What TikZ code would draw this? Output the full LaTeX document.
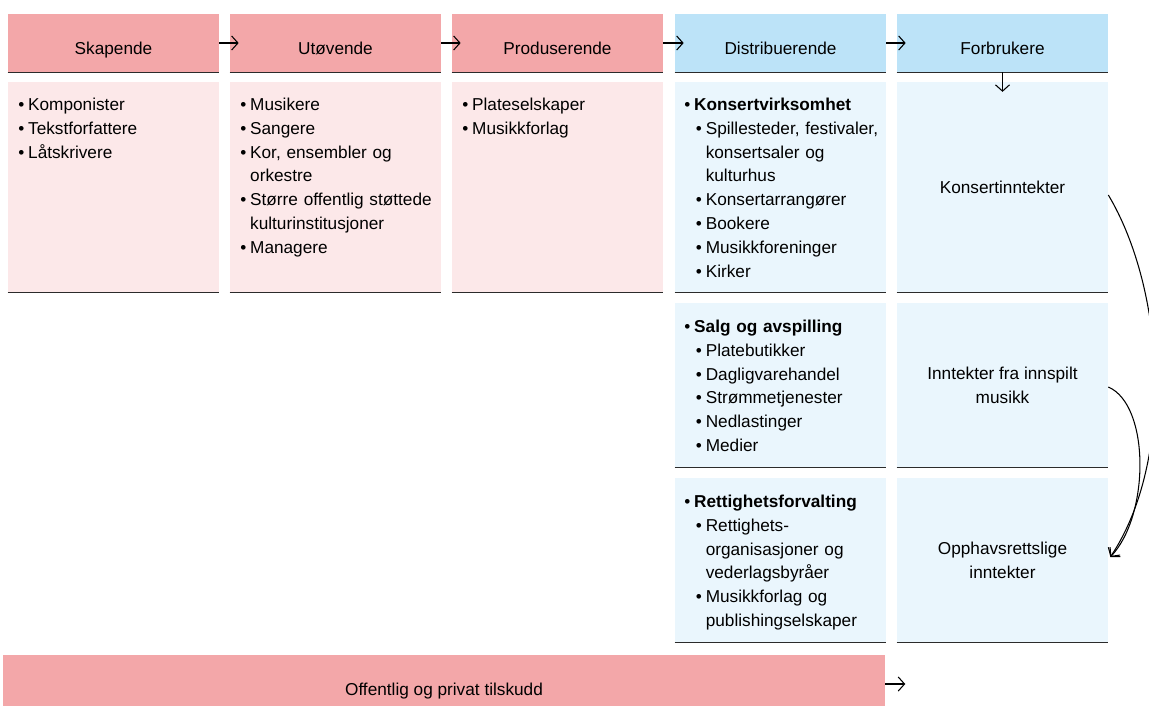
\documentclass[tikz,border=0pt]{standalone}
\usepackage{fontspec}
\setmainfont{Liberation Sans}
\usetikzlibrary{arrows.meta}

\definecolor{rosa}{HTML}{F3A7A9}
\definecolor{lysrosa}{HTML}{FCE8E9}
\definecolor{bla}{HTML}{BCE3F8}
\definecolor{lysbla}{HTML}{EAF6FD}
\definecolor{strek}{HTML}{2B2B2B}

\newcommand\tekstfont{\fontsize{9.8}{13.6}\selectfont}
\newlength\bw \setlength\bw{5.6pt}
% punkt, fortsettelse, underpunkt
\newcommand\pkt[1]{\par\noindent\makebox[\bw][l]{\textbullet}#1}
\newcommand\fort[1]{\par\noindent\hspace*{\bw}#1}
\newcommand\upkt[1]{\par\noindent\hspace*{6.6pt}\makebox[\bw][l]{\textbullet}#1}
\newcommand\ufort[1]{\par\noindent\hspace*{6.6pt}\hspace*{\bw}#1}
\newcommand\senk[2]{\raisebox{-#1}[0pt][0pt]{#2}}

\begin{document}
\begin{tikzpicture}[x=0.02cm,y=-0.02cm,
  hode/.style={minimum width=4.22cm,minimum height=1.16cm,inner sep=0pt,font=\tekstfont},
  kropp/.style={minimum width=4.22cm,inner sep=0pt,font=\tekstfont,align=center},
  liste/.style={anchor=north west,inner sep=0pt,text width=4cm,font=\tekstfont},
  linje/.style={strek,line width=0.85pt},
  pil/.style={-{Straight Barb[length=3.6pt,width=8pt]},line width=0.6pt,black}]
  \useasboundingbox (0,0) rectangle (1149,706);
  % overskrifter
  \foreach \n/\x/\f/\t in {1/113.5/rosa/Skapende,2/335.5/rosa/Utøvende,
      3/557.5/rosa/Produserende,4/780.5/bla/Distribuerende,5/1002.5/bla/Forbrukere}{
    \node[hode,fill=\f] (h\n) at (\x,43) {\senk{6.3pt}{\t}};
    \draw[linje] (h\n.south west) -- (h\n.south east);
  }
  % rad 1
  \foreach \n/\x/\f in {1/113.5/lysrosa,2/335.5/lysrosa,3/557.5/lysrosa,4/780.5/lysbla}{
    \node[kropp,minimum height=4.2cm,fill=\f] (b\n) at (\x,187) {};
    \draw[linje] (b\n.south west) -- (b\n.south east);
  }
  \node[kropp,minimum height=4.2cm,fill=lysbla] (b5) at (1002.5,187) {Konsertinntekter};
  \draw[linje] (b5.south west) -- (b5.south east);
  % rad 2 og 3
  \node[kropp,minimum height=3.28cm,fill=lysbla] (b6) at (780.5,385) {};
  \node[kropp,minimum height=3.28cm,fill=lysbla] (b7) at (1002.5,385) {Inntekter fra innspilt\\musikk};
  \node[kropp,minimum height=3.28cm,fill=lysbla] (b8) at (780.5,560) {};
  \node[kropp,minimum height=3.28cm,fill=lysbla] (b9) at (1002.5,560) {Opphavsrettslige\\inntekter};
  \foreach \b in {b6,b7,b8,b9}
    \draw[linje] (\b.south west) -- (\b.south east);

  \node[liste] (l1) at (18,86) {\pkt{Komponister}\pkt{Tekstforfattere}\pkt{Låtskrivere}};
  \node[liste] (l2) at (240,86) {\pkt{Musikere}\pkt{Sangere}\pkt{Kor, ensembler og}\fort{orkestre}
    \pkt{Større offentlig støttede}\fort{kulturinstitusjoner}\pkt{Managere}};
  \node[liste] (l3) at (462,86) {\pkt{Plateselskaper}\pkt{Musikkforlag}};
  \node[liste] (l4) at (684,86) {\pkt{\textbf{Konsertvirksomhet}}\upkt{Spillesteder, festivaler,}
    \ufort{konsertsaler og}\ufort{kulturhus}\upkt{Konsertarrangører}\upkt{Bookere}
    \upkt{Musikkforeninger}\upkt{Kirker}};
  \node[liste] (l6) at (684,308) {\pkt{\textbf{Salg og avspilling}}\upkt{Platebutikker}
    \upkt{Dagligvarehandel}\upkt{Strømmetjenester}\upkt{Nedlastinger}\upkt{Medier}};
  \node[liste] (l8) at (684,483) {\pkt{\textbf{Rettighetsforvalting}}\upkt{Rettighets-}
    \ufort{organisasjoner og}\ufort{vederlagsbyråer}\upkt{Musikkforlag og}\ufort{publishingselskaper}};

  % tilskudd
  \node[hode,minimum width=17.64cm,minimum height=1.02cm,fill=rosa] (t) at (444,680.5)
    {\senk{8.3pt}{Offentlig og privat tilskudd}};

  % piler
  \foreach \a/\b in {h1/h2,h2/h3,h3/h4,h4/h5}
    \draw[pil] (\a.east) -- ([xshift=0.18cm]\b.west);
  \draw[pil] (h5.south) -- ([yshift=-0.39cm]h5.south);
  \draw[pil] ([yshift=-0.07cm]t.east) -- ([xshift=0.4cm,yshift=-0.07cm]t.east);
  \draw[pil] ([yshift=-0.16cm]b5.east) .. controls (1165,290) and (1175,460) .. ([xshift=0.04cm,yshift=0.06cm]b9.east);
  \draw[pil] ([yshift=-0.04cm]b7.east) .. controls (1150,405) and (1150,515) .. ([xshift=0.04cm,yshift=0.06cm]b9.east);
\end{tikzpicture}
\end{document}
